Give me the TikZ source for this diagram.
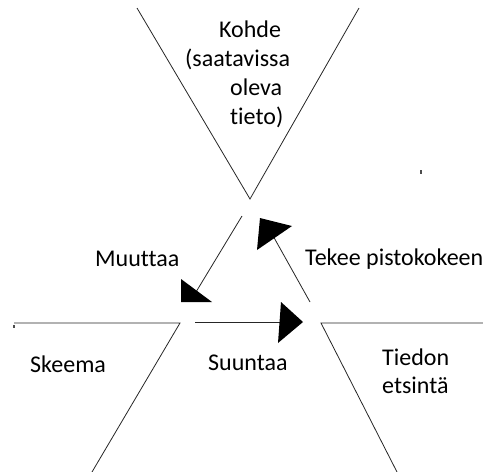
\documentclass[tikz,border=0pt]{standalone}
\usepackage{fontspec}
\setmainfont{Carlito}[Ligatures=NoCommon]
\begin{document}
\begin{tikzpicture}[x=1pt,y=-1pt,
  edge/.style={line width=0.8pt,draw=black!85},
  head/.style={fill=black,draw=none},
  lbl/.style={inner sep=0pt,anchor=base west,font=\fontsize{24}{28}\selectfont}]
\useasboundingbox (0,0) rectangle (483,472);
% shapes
\coordinate (vl) at (137,8);
\coordinate (vr) at (359,8);
\coordinate (vb) at (250,199);
\draw[edge] (vl) -- (vb) -- (vr);
\coordinate (ll) at (14,323);
\coordinate (lc) at (180,323);
\coordinate (lb) at (92,472);
\draw[edge] (ll) -- (lc) -- (lb);
\coordinate (rr) at (483,323);
\coordinate (rc) at (321,323);
\coordinate (rb) at (397,472);
\draw[edge] (rr) -- (rc) -- (rb);
% tiny dots
\fill[black!70] (12.5,325) rectangle (14.5,327.5);
\fill[black!70] (420,170) rectangle (422,174);
% arrows
\coordinate (m1) at (242,216);
\coordinate (m2) at (196,292);
\draw[edge] (m1) -- (m2);
\fill[head] (181,279) -- (181,302) -- (212,302) -- cycle;
\coordinate (t1) at (310,302);
\coordinate (t2) at (272,234);
\draw[edge] (t1) -- (t2);
\fill[head] (260,218) -- (257,250) -- (292,226) -- cycle;
\coordinate (s1) at (195,322);
\coordinate (s2) at (282,322);
\draw[edge] (s1) -- (s2);
\fill[head] (281,302) -- (303,322) -- (278,343) -- cycle;
% labels
\node[lbl] (k1) at (219,37) {Kohde};
\node[lbl] (k2) at (185,66) {(saatavissa};
\node[lbl] (k3) at (230,95) {oleva};
\node[lbl] (k4) at (230,124) {tieto)};
\node[lbl] (mu) at (95,266) {Muuttaa};
\node[lbl] (te) at (305,265) {Tekee pistokokeen};
\node[lbl] (sk) at (30,372) {Skeema};
\node[lbl] (su) at (208,370) {Suuntaa};
\node[lbl] (ti) at (382,365) {Tiedon};
\node[lbl] (et) at (382,393) {etsintä};
\end{tikzpicture}
\end{document}
